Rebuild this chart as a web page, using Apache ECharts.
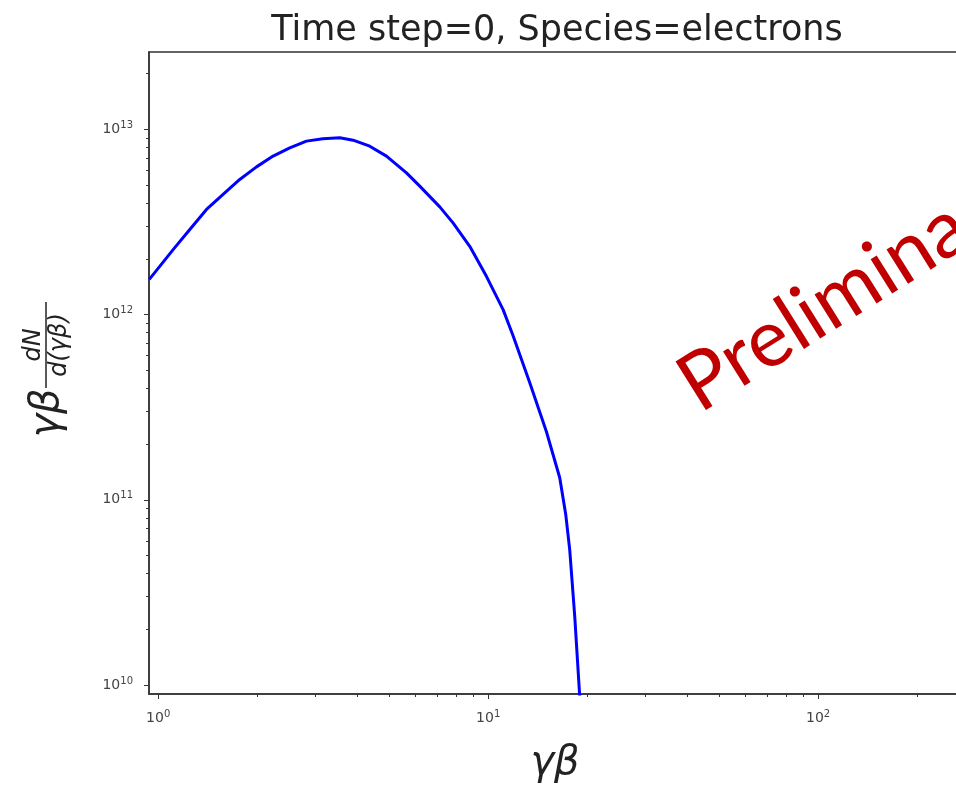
<!DOCTYPE html>
<html>
<head>
<meta charset="utf-8">
<script src="https://cdn.jsdelivr.net/npm/echarts@6/dist/echarts.min.js"></script>
<style>
  html, body { margin: 0; padding: 0; background: #ffffff; }
  #chart { width: 956px; height: 785px; }
</style>
</head>
<body>
<div id="chart"></div>
<script>
// Energy spectrum of the electron species at time step 0
const gammaBeta = [0.94, 1.11, 1.247, 1.401, 1.573, 1.767, 1.986, 2.23, 2.505, 2.814, 3.154, 3.551, 3.896, 4.377, 4.918, 5.655, 6.204, 7.135, 7.826, 8.795, 9.88, 11.1, 11.9, 13.37, 15.02, 16.48, 17.19, 17.67, 18.3, 18.95];
const spectrum  = [1.55e12, 2.244e12, 2.88e12, 3.70e12, 4.46e12, 5.37e12, 6.28e12, 7.18e12, 7.96e12, 8.65e12, 8.91e12, 9.02e12, 8.75e12, 8.12e12, 7.18e12, 5.83e12, 4.94e12, 3.82e12, 3.13e12, 2.34e12, 1.61e12, 1.064e12, 7.69e11, 4.29e11, 2.33e11, 1.315e11, 8.30e10, 5.37e10, 2.34e10, 8.6e9];

// Tick positions (decades carry labels, the rest are minor ticks)
const xMajorTicks = [1, 10, 100];
const xMinorTicks = [2, 3, 4, 5, 6, 7, 8, 9, 20, 30, 40, 50, 60, 70, 80, 90, 200];
const yMajorTicks = [1e10, 1e11, 1e12, 1e13];
const yMinorTicks = [2e10, 3e10, 4e10, 5e10, 6e10, 7e10, 8e10, 9e10,
                     2e11, 3e11, 4e11, 5e11, 6e11, 7e11, 8e11, 9e11,
                     2e12, 3e12, 4e12, 5e12, 6e12, 7e12, 8e12, 9e12, 2e13];

const titleText = 'Time step=0, Species=electrons';
const watermarkText = 'Preliminary';

const xRange = [0.938, 271];
const yRange = [8.94e9, 2.62e13];

const axisColor = '#333333';
const labelColor = '#444444';
const textColor = '#222222';

const powerLabel = function (v) {
  const e = Math.round(Math.log10(v));
  return '{b|10}{s|' + e + '}';
};
const powerRich = {
  b: { fontSize: 14, color: labelColor, fontFamily: 'DejaVu Sans' },
  s: { fontSize: 10, color: labelColor, fontFamily: 'DejaVu Sans', padding: [0, 0, 8, 0] }
};

function logAxis(range, extra) {
  return Object.assign({
    type: 'log',
    logBase: 10,
    min: range[0],
    max: range[1],
    splitLine: { show: false },
    minorTick: { show: false },
    minorSplitLine: { show: false }
  }, extra);
}

const chart = echarts.init(document.getElementById('chart'), null, { renderer: 'canvas' });

chart.setOption({
  backgroundColor: '#ffffff',
  animation: false,
  title: {
    text: titleText,
    left: 552,
    top: 8,
    textAlign: 'center',
    textStyle: { fontFamily: 'DejaVu Sans', fontSize: 35, fontWeight: 'normal', color: textColor }
  },
  grid: {
    left: 149, top: 52, right: -5, bottom: 91,
    outerBoundsMode: 'none',
    containLabel: false,
    show: true, borderColor: axisColor, borderWidth: 1.5, backgroundColor: 'transparent'
  },
  xAxis: [
    logAxis(xRange, {
      position: 'bottom',
      name: 'γβ',
      nameLocation: 'middle',
      nameGap: 50,
      nameTextStyle: { fontFamily: 'DejaVu Sans', fontStyle: 'italic', fontSize: 40, color: textColor },
      axisLine: { show: true, onZero: false, lineStyle: { color: axisColor, width: 1.5 } },
      axisTick: { show: true, inside: false, length: 5, customValues: xMajorTicks, lineStyle: { color: axisColor, width: 1 } },
      axisLabel: { show: true, customValues: xMajorTicks, margin: 15, formatter: powerLabel, rich: powerRich }
    }),
    logAxis(xRange, {
      position: 'bottom',
      axisLine: { show: false, onZero: false },
      axisTick: { show: true, inside: false, length: 3, customValues: xMinorTicks, lineStyle: { color: axisColor, width: 1 } },
      axisLabel: { show: false }
    })
  ],
  yAxis: [
    logAxis(yRange, {
      position: 'left',
      axisLine: { show: true, onZero: false, lineStyle: { color: axisColor, width: 1.5 } },
      axisTick: { show: true, inside: false, length: 5, customValues: yMajorTicks, lineStyle: { color: axisColor, width: 1 } },
      axisLabel: { show: true, customValues: yMajorTicks, margin: 16, formatter: powerLabel, rich: powerRich }
    }),
    logAxis(yRange, {
      position: 'left',
      axisLine: { show: false, onZero: false },
      axisTick: { show: true, inside: false, length: 3, customValues: yMinorTicks, lineStyle: { color: axisColor, width: 1 } },
      axisLabel: { show: false }
    })
  ],
  series: [{
    type: 'line',
    xAxisIndex: 0,
    yAxisIndex: 0,
    data: gammaBeta.map(function (g, i) { return [g, spectrum[i]]; }),
    showSymbol: false,
    smooth: false,
    clip: true,
    lineStyle: { color: '#0000ff', width: 3, join: 'round' }
  }],
  graphic: [
    {
      // vertical axis title: γβ dN/d(γβ)
      type: 'group',
      x: 48, y: 370,
      rotation: Math.PI / 2,
      children: [
        { type: 'text', x: -43, y: 0, style: { text: 'γβ', fontFamily: 'DejaVu Sans', fontStyle: 'italic', fontSize: 40, fill: textColor, align: 'center', verticalAlign: 'middle' } },
        { type: 'text', x: 25, y: -14, style: { text: 'dN', fontFamily: 'DejaVu Sans', fontStyle: 'italic', fontSize: 24, fill: textColor, align: 'center', verticalAlign: 'middle' } },
        { type: 'line', shape: { x1: -18, y1: -2, x2: 68, y2: -2 }, style: { stroke: textColor, lineWidth: 1.5 } },
        { type: 'text', x: 25, y: 12, style: { text: 'd(γβ)', fontFamily: 'DejaVu Sans', fontStyle: 'italic', fontSize: 24, fill: textColor, align: 'center', verticalAlign: 'middle' } }
      ]
    },
    {
      type: 'text',
      x: 686, y: 392,
      rotation: 32 * Math.PI / 180,
      z: 100,
      style: { text: watermarkText, fontFamily: 'Lato', fontSize: 80, fill: '#c00000', align: 'left', verticalAlign: 'middle' }
    }
  ]
});
</script>
</body>
</html>
